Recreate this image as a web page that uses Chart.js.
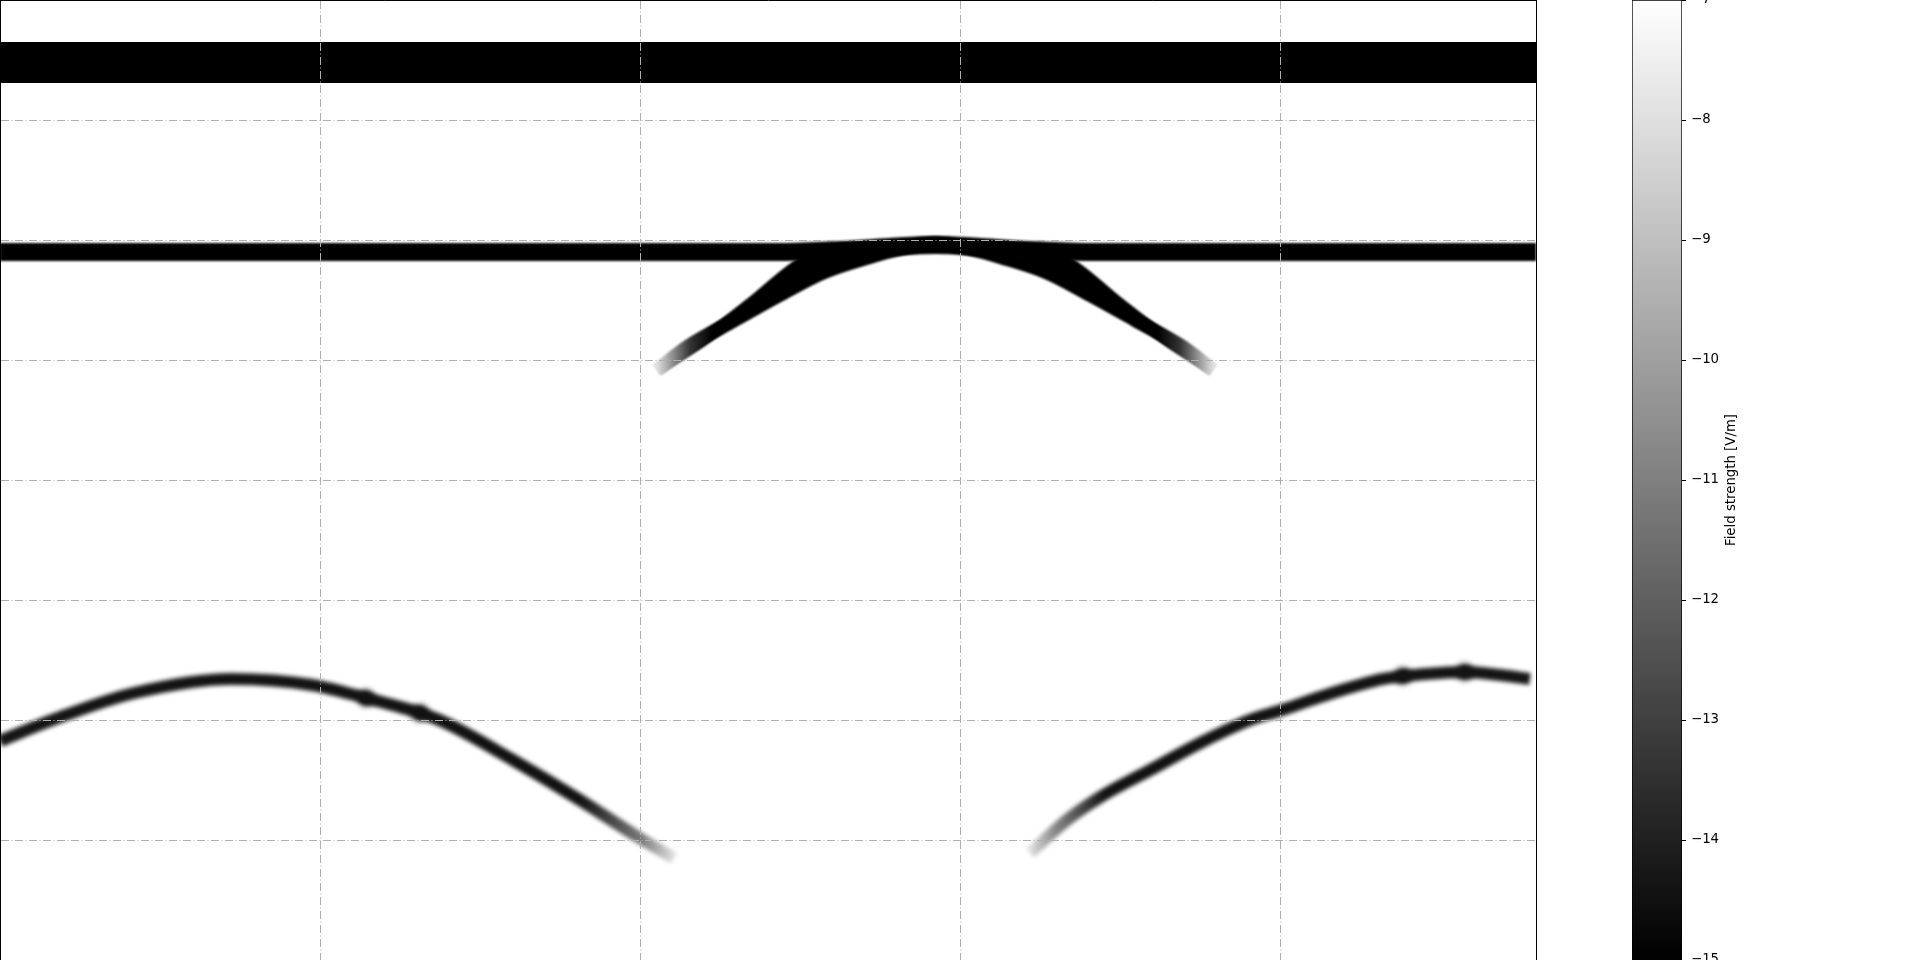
<!DOCTYPE html>
<html><head><meta charset="utf-8">
<script src="https://cdn.jsdelivr.net/npm/chart.js@4.4.1/dist/chart.umd.min.js"></script>
<style>
html,body{margin:0;padding:0;background:#fff;width:1920px;height:960px;overflow:hidden;}
#main{position:absolute;left:0;top:0;}
#cbar{position:absolute;left:1600px;top:0;}
</style></head><body>
<canvas id="main" width="1537" height="960"></canvas>
<canvas id="cbar" width="320" height="960"></canvas>
<script>
// ---- data (x, y in plot units; one grid step = 1) ----
const bandTopX = [0, 1.2, 2.4, 3.6, 4.8];
const bandTopY = [7.48, 7.48, 7.48, 7.48, 7.48];
const bandMidX = [0, 2.0, 2.44, 2.625, 2.78, 2.922, 3.063, 3.219, 3.406, 4.8];
const bandMidY = [5.9, 5.9, 5.9, 5.917, 5.942, 5.958, 5.942, 5.917, 5.9, 5.9];
const archX = [2.053, 2.153, 2.294, 2.434, 2.572, 2.713, 2.813, 2.922, 3.031, 3.131, 3.272, 3.409, 3.55, 3.691, 3.791];
const archY = [4.917, 5.117, 5.329, 5.538, 5.729, 5.854, 5.925, 5.971, 5.925, 5.854, 5.729, 5.538, 5.329, 5.117, 4.917];
const legLeftX = [2.053, 2.188, 2.344, 2.494, 2.56, 2.656];
const legLeftY = [4.917, 5.15, 5.467, 5.79, 5.875, 5.917];
const legRightX = [3.188, 3.284, 3.35, 3.5, 3.656, 3.791];
const legRightY = [5.917, 5.875, 5.79, 5.467, 5.15, 4.917];
const leftArcX = [0, 0.181, 0.419, 0.725, 0.975, 1.144, 1.313, 1.394, 1.603, 1.813, 1.994, 2.106];
const leftArcY = [1.825, 2.017, 2.225, 2.342, 2.292, 2.183, 2.058, 1.975, 1.667, 1.333, 1.025, 0.85];
const rightArcX = [3.219, 3.334, 3.438, 3.594, 3.75, 3.906, 4.006, 4.125, 4.322, 4.391, 4.5, 4.578, 4.688, 4.781];
const rightArcY = [0.892, 1.167, 1.358, 1.583, 1.808, 2.0, 2.083, 2.192, 2.342, 2.367, 2.392, 2.4, 2.375, 2.342];
const blobX = [1.144, 1.313, 4.384, 4.578];
const blobY = [2.183, 2.058, 2.367, 2.40];
const xRange = [0, 4.8];
const yRange = [0, 8];
const cbarRange = [-15, -7];
const cbarTicks = [-15, -14, -13, -12, -11, -10, -9, -8, -7];
const cbarLabel = 'Field strength [V/m]';

const pts = (xs, ys) => xs.map((x, i) => ({x, y: ys[i]}));

function fade(stops) {
  return (c) => {
    const ch = c.chart, xs = ch.scales && ch.scales.x;
    if (!ch.chartArea || !xs || !c.dataset) return '#000';
    const d = c.dataset.data;
    const x0 = xs.getPixelForValue(d[0].x), x1 = xs.getPixelForValue(d[d.length - 1].x);
    const g = ch.ctx.createLinearGradient(x0, 0, x1, 0);
    stops.forEach(s => g.addColorStop(s[0], s[1]));
    return g;
  };
}

const softEdges = {
  id: 'softEdges',
  beforeDatasetDraw(chart, args) {
    const b = chart.data.datasets[args.index].blur || 0;
    chart.ctx.save();
    if (b) chart.ctx.filter = 'blur(' + b + 'px)';
  },
  afterDatasetDraw(chart) { chart.ctx.restore(); }
};

const lineBase = {pointRadius: 0, fill: false, cubicInterpolationMode: 'monotone', borderJoinStyle: 'round', clip: 0};
const gridDash = [8, 2.5, 1, 2.5];
const gridOpts = {color: '#b0b0b0', lineWidth: 1, drawTicks: false, z: 1};
const borderOpts = {display: true, color: '#000', width: 1, dash: gridDash, z: 2};
const ARCH = 2;

new Chart(document.getElementById('main'), {
  type: 'line',
  data: {
    datasets: [
      Object.assign({}, lineBase, {label: 'band top', data: pts(bandTopX, bandTopY), borderColor: '#000', borderWidth: 41, blur: 0.6}),
      Object.assign({}, lineBase, {label: 'band mid', data: pts(bandMidX, bandMidY), borderColor: '#000', borderWidth: 18, blur: 0.9}),
      Object.assign({}, lineBase, {label: 'arch', data: pts(archX, archY), borderWidth: 14, blur: 0.8,
        borderColor: fade([[0, '#e0e0e0'], [0.06, '#333'], [0.1, '#000'], [0.9, '#000'], [0.94, '#333'], [1, '#e0e0e0']])}),
      Object.assign({}, lineBase, {label: 'leg left', data: pts(legLeftX, legLeftY), borderWidth: 12, blur: 0.8,
        fill: {target: ARCH, above: '#000', below: '#000'},
        borderColor: fade([[0, '#e0e0e0'], [0.17, '#333'], [0.25, '#000'], [1, '#000']])}),
      Object.assign({}, lineBase, {label: 'leg right', data: pts(legRightX, legRightY), borderWidth: 12, blur: 0.8,
        fill: {target: ARCH, above: '#000', below: '#000'},
        borderColor: fade([[0, '#000'], [0.75, '#000'], [0.83, '#333'], [1, '#e0e0e0']])}),
      Object.assign({}, lineBase, {label: 'left arc', data: pts(leftArcX, leftArcY), borderWidth: 12, blur: 2,
        borderColor: fade([[0, '#151515'], [0.86, '#111'], [0.95, '#777'], [1, '#e0e0e0']])}),
      Object.assign({}, lineBase, {label: 'right arc', data: pts(rightArcX, rightArcY), borderWidth: 12, blur: 2,
        borderColor: fade([[0, '#e0e0e0'], [0.05, '#888'], [0.15, '#111'], [1, '#151515']])}),
      {label: 'nodes', data: pts(blobX, blobY), showLine: false, pointRadius: 8, pointBackgroundColor: '#000',
        pointBorderWidth: 0, borderColor: '#000', blur: 3, clip: 0}
    ]
  },
  options: {
    responsive: false, animation: false, devicePixelRatio: 1, events: [],
    layout: {autoPadding: false, padding: {left: 0, top: 0, right: 1, bottom: 0}},
    plugins: {legend: {display: false}, tooltip: {enabled: false}},
    scales: {
      x: {type: 'linear', position: 'top', min: xRange[0], max: xRange[1],
        ticks: {display: false, stepSize: 1, includeBounds: false}, grid: gridOpts, border: borderOpts},
      y: {type: 'linear', position: 'left', min: yRange[0], max: yRange[1],
        ticks: {display: false, stepSize: 1, includeBounds: false}, grid: gridOpts, border: borderOpts},
      y2: {type: 'linear', position: 'right', min: yRange[0], max: yRange[1],
        ticks: {display: false}, grid: {display: false, drawTicks: false},
        border: {display: true, color: '#000', width: 1, z: 2}}
    }
  },
  plugins: [softEdges]
});

const cbarTitle = {
  id: 'cbarTitle',
  afterDraw(chart) {
    const {ctx, chartArea} = chart;
    ctx.save();
    ctx.translate(chartArea.right + 50, (chartArea.top + chartArea.bottom) / 2);
    ctx.rotate(-Math.PI / 2);
    ctx.font = '13.3px "DejaVu Sans"';
    ctx.fillStyle = '#000';
    ctx.textAlign = 'center';
    ctx.textBaseline = 'middle';
    ctx.fillText(cbarLabel, 0, 0);
    ctx.restore();
  }
};

new Chart(document.getElementById('cbar'), {
  type: 'bar',
  data: {
    labels: ['cb'],
    datasets: [{
      data: [[cbarRange[0], cbarRange[1]]],
      barPercentage: 1, categoryPercentage: 1,
      borderWidth: 1, borderColor: '#000', borderSkipped: false,
      backgroundColor: (c) => {
        const ch = c.chart, ys = ch.scales && ch.scales.y;
        if (!ch.chartArea || !ys) return '#888';
        const g = ch.ctx.createLinearGradient(0, ys.getPixelForValue(cbarRange[0]), 0, ys.getPixelForValue(cbarRange[1]));
        g.addColorStop(0, '#000');
        g.addColorStop(1, '#fff');
        return g;
      }
    }]
  },
  options: {
    responsive: false, animation: false, devicePixelRatio: 1, events: [],
    layout: {autoPadding: false, padding: {left: 32, top: 0, right: 0, bottom: 0}},
    plugins: {legend: {display: false}, tooltip: {enabled: false}},
    scales: {
      x: {display: false},
      y: {position: 'right', min: cbarRange[0], max: cbarRange[1],
        afterBuildTicks: (s) => { s.ticks = cbarTicks.map(v => ({value: v})); },
        afterFit: (s) => { s.width = 238; s.paddingTop = 0; s.paddingBottom = 0; },
        ticks: {color: '#000', padding: 5, font: {family: 'DejaVu Sans', size: 13.3},
          callback: (v) => (v < 0 ? '\u2212' + Math.abs(v) : String(v))},
        grid: {display: true, drawOnChartArea: false, drawTicks: true, tickLength: 4, color: '#000', lineWidth: 1},
        border: {display: false}
      }
    }
  },
  plugins: [cbarTitle]
});
</script></body></html>
